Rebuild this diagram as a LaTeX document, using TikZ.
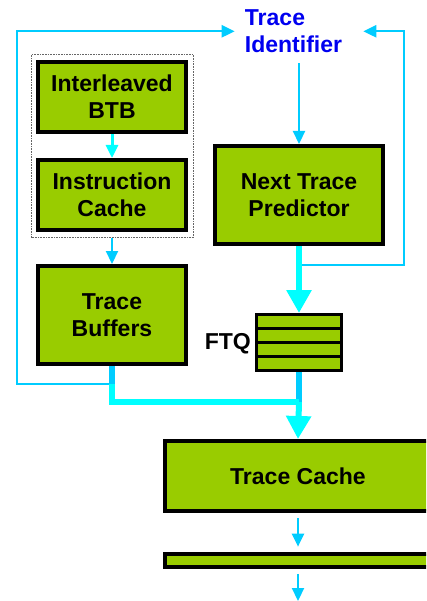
\documentclass[tikz,border=0pt]{standalone}
\usepackage{fontspec}
\setmainfont{Liberation Sans}
\usetikzlibrary{arrows.meta}
\definecolor{boxgreen}{RGB}{153,204,0}
\definecolor{flowcyan}{RGB}{0,255,255}
\definecolor{flowblue}{RGB}{0,204,255}
\definecolor{tiblue}{RGB}{0,0,240}
\begin{document}
\begin{tikzpicture}[x=1bp,y=-1bp,
  labelfont/.style={font=\fontsize{23.1pt}{27.1pt}\selectfont\bfseries},
  unit/.style={draw=black, fill=boxgreen, line width=4bp, labelfont, align=center, inner sep=0pt},
  thinflow/.style={draw=flowblue, line width=2.2bp},
  thinarrow/.style={thinflow, -{Triangle[width=12bp,length=13bp]}},
  thickflow/.style={draw=flowcyan, line width=6bp},
  bigarrow/.style={-{Triangle[width=24bp,length=23bp]}},
]
\clip (0,0) rectangle (426,601);
\fill[white] (0,0) rectangle (426,601);

% nodes
\node[draw=black!60, dash pattern=on 0.8bp off 0.8bp, line width=0.8bp,
      minimum width=161.6bp, minimum height=183.4bp, inner sep=0pt] (grp) at (112.5,146) {};
\node[unit, minimum width=148bp, minimum height=70bp] (btb) at (112,97) {Interleaved\\BTB};
\node[unit, minimum width=148bp, minimum height=70bp] (ic) at (112,195) {Instruction\\Cache};
\node[unit, minimum width=148bp, minimum height=98bp] (tb) at (112,315) {Trace\\Buffers};
\node[unit, minimum width=168bp, minimum height=98bp] (ntp) at (299,195) {Next Trace\\Predictor};
\node[unit, minimum width=266bp, minimum height=70bp] (tc) at (298,476) {Trace Cache};
\node[unit, minimum width=266bp, minimum height=13.3bp] (bar) at (298,560.3) {};
\node[draw=black, fill=boxgreen, line width=3bp, minimum width=85bp, minimum height=56bp, inner sep=0pt] (ftq) at (299,342.5) {};
\foreach \yy in {328.5,342.5,356.5} \draw[line width=3bp] (256.5,\yy) -- (341.5,\yy);
\node[labelfont, anchor=east, inner sep=0pt] (ftql) at (251,343.5) {FTQ};
\node[labelfont, text=tiblue, align=left, inner sep=10bp] (ti) at (293.5,31.3) {Trace\\Identifier};

% coordinates
\coordinate (j1) at (112,384);
\coordinate (j2) at (299,402);
\coordinate (j3) at (299,265);
\coordinate (out) at (298,601);

% connectors
\draw[thinarrow, draw=flowcyan, line width=3bp] (btb) -- (ic);
\draw[thinarrow] (ic.south |- grp.south) -- (tb.north);
\draw[thinarrow] (ti.south -| ntp.north) -- (ntp.north);
\draw[thinarrow] (j3) -- (404,265) |- ([xshift=11bp]ti.east);
\draw[thinarrow] (j1) -- (17,384) |- (ti.west);
\draw[thickflow, bigarrow] (ntp.south) -- (ftq.north);
\draw[thickflow, draw=flowblue] (ftq.south) -- (j2);
\draw[thickflow] (tb.south) |- (j2);
\draw[thickflow, draw=flowblue] (tb.south) -- (j1);
\draw[thickflow, bigarrow] (j2) -- (tc.north);
\draw[thinarrow, shorten <=5bp, shorten >=5bp] (tc) -- (bar);
\draw[thinarrow, shorten <=5bp] (bar) -- (out);
\end{tikzpicture}
\end{document}
